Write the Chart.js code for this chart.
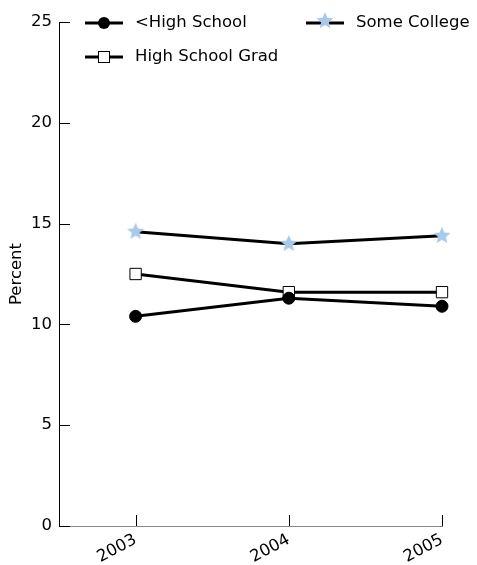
<!DOCTYPE html>
<html lang="en">
<head>
<meta charset="UTF-8">
<title>Percent by education</title>
<script src="https://cdn.jsdelivr.net/npm/chart.js"></script>
<style>
  html, body { margin: 0; padding: 0; background: #fff; }
  #wrap { width: 477px; height: 565px; }
</style>
</head>
<body>
<div id="wrap"><canvas id="chart" width="477" height="565"></canvas></div>
<script>
    const YEARS = [2003, 2004, 2005];
    const LESS_HS = [10.4, 11.3, 10.9];
    const HS_GRAD = [12.5, 11.6, 11.6];
    const SOME_COLLEGE = [14.6, 14.0, 14.4];
    const Y_TICKS = [0, 5, 10, 15, 20, 25];

    const FONT = "'DejaVu Sans', sans-serif";
    const FSIZE = 16.5;
    const STAR_BLUE = '#a9c9ea';

    // filled 5-point star, chart.js 'star' is only an asterisk
    function makeStar(r) {
        const c = document.createElement('canvas');
        c.width = c.height = r * 2 + 2;
        const g = c.getContext('2d');
        g.translate(r + 1, r + 1);
        g.beginPath();
        for (let i = 0; i < 10; i++) {
            const rad = i % 2 ? r * 0.45 : r;
            const a = -Math.PI / 2 + i * Math.PI / 5;
            g.lineTo(Math.cos(a) * rad, Math.sin(a) * rad);
        }
        g.closePath();
        g.fillStyle = STAR_BLUE;
        g.fill();
        return c;
    }
    const star = makeStar(9);

    const toPts = arr => arr.map((v, i) => ({ x: YEARS[i], y: v }));

    // ticks pointing inside the plot + custom two column legend
    const extras = {
        id: 'extras',
        afterDraw(chart) {
            const ctx = chart.ctx;
            const x = chart.scales.x, y = chart.scales.y;
            ctx.save();
            ctx.strokeStyle = '#000';
            ctx.lineWidth = 1;
            Y_TICKS.forEach(v => {
                const py = Math.round(y.getPixelForValue(v)) + 0.5;
                ctx.beginPath();
                ctx.moveTo(x.left, py);
                ctx.lineTo(x.left + 11, py);
                ctx.stroke();
            });
            YEARS.forEach(v => {
                const px = Math.round(x.getPixelForValue(v)) + 0.5;
                ctx.beginPath();
                ctx.moveTo(px, y.bottom);
                ctx.lineTo(px, y.bottom - 11);
                ctx.stroke();
            });

            const items = [
                { ds: 0, lx: 85, ly: 23 },
                { ds: 1, lx: 85, ly: 57 },
                { ds: 2, lx: 306, ly: 23 }
            ];
            ctx.font = FSIZE + 'px ' + FONT;
            ctx.textBaseline = 'middle';
            items.forEach(it => {
                const ds = chart.data.datasets[it.ds];
                ctx.strokeStyle = '#000';
                ctx.lineWidth = 3;
                ctx.beginPath();
                ctx.moveTo(it.lx, it.ly);
                ctx.lineTo(it.lx + 38, it.ly);
                ctx.stroke();
                const cx = it.lx + 19;
                if (ds.pointStyle === 'circle') {
                    ctx.beginPath();
                    ctx.arc(cx, it.ly, 6, 0, Math.PI * 2);
                    ctx.fillStyle = '#000';
                    ctx.fill();
                } else if (ds.pointStyle === 'rect') {
                    ctx.fillStyle = '#fff';
                    ctx.lineWidth = 1;
                    ctx.fillRect(cx - 6, it.ly - 6, 12, 12);
                    ctx.strokeRect(cx - 5.5, it.ly - 5.5, 11, 11);
                } else {
                    ctx.drawImage(star, cx - star.width / 2, it.ly - star.height / 2 - 2);
                }
                ctx.fillStyle = '#000';
                ctx.fillText(ds.label, it.lx + 50, it.ly);
            });
            ctx.restore();
        }
    };

    new Chart(document.getElementById('chart'), {
        type: 'line',
        data: {
            datasets: [
                {
                    label: '<High School',
                    data: toPts(LESS_HS),
                    borderColor: '#000',
                    borderWidth: 3,
                    pointStyle: 'circle',
                    pointRadius: 6,
                    pointBackgroundColor: '#000',
                    pointBorderColor: '#000',
                    pointBorderWidth: 1,
                    clip: false
                },
                {
                    label: 'High School Grad',
                    data: toPts(HS_GRAD),
                    borderColor: '#000',
                    borderWidth: 3,
                    pointStyle: 'rect',
                    pointRadius: 8,
                    pointBackgroundColor: '#fff',
                    pointBorderColor: '#000',
                    pointBorderWidth: 1,
                    clip: false
                },
                {
                    label: 'Some College',
                    data: toPts(SOME_COLLEGE),
                    borderColor: '#000',
                    borderWidth: 3,
                    pointStyle: star,
                    pointRadius: 9,
                    clip: false
                }
            ]
        },
        options: {
            responsive: false,
            animation: false,
            events: [],
            layout: { padding: { top: 22, right: 35, left: 0, bottom: 0 } },
            plugins: { legend: { display: false }, tooltip: { enabled: false } },
            scales: {
                x: {
                    type: 'linear',
                    min: 2002.5,
                    max: 2005,
                    afterBuildTicks: s => { s.ticks = YEARS.map(v => ({ value: v })); },
                    afterFit: s => { s.height = 39; },
                    grid: { display: false, drawTicks: false },
                    border: { display: true, color: '#888', width: 1 },
                    ticks: {
                        color: '#000',
                        font: { family: FONT, size: FSIZE },
                        maxRotation: 28,
                        minRotation: 28,
                        padding: 4,
                        callback: v => String(v)
                    }
                },
                y: {
                    min: 0,
                    max: 25,
                    afterBuildTicks: s => { s.ticks = Y_TICKS.map(v => ({ value: v })); },
                    afterFit: s => { s.width = 59; },
                    grid: { display: false, drawTicks: false },
                    border: { display: true, color: '#000', width: 1 },
                    title: {
                        display: true,
                        text: 'Percent',
                        color: '#000',
                        font: { family: FONT, size: FSIZE },
                        padding: { top: 7, bottom: 0 }
                    },
                    ticks: {
                        color: '#000',
                        font: { family: FONT, size: FSIZE },
                        padding: 7
                    }
                }
            }
        },
        plugins: [extras]
    });
</script>
</body>
</html>
